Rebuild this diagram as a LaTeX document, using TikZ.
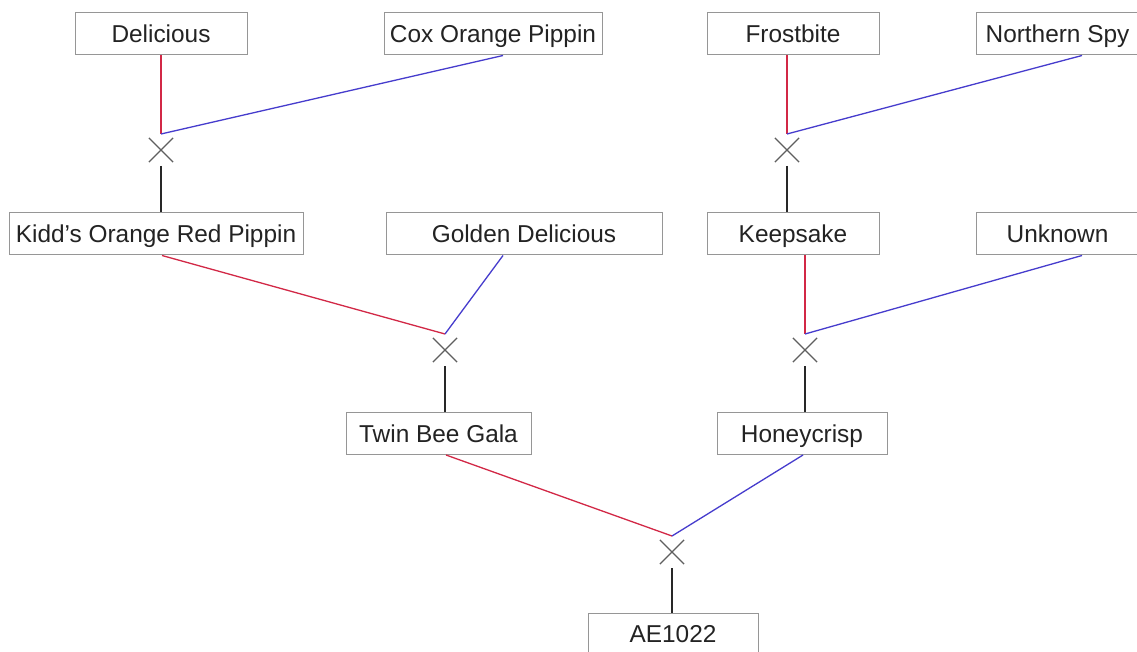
\documentclass[tikz,border=0pt]{standalone}
\usepackage{fontspec}
\setmainfont{Liberation Sans}
\usetikzlibrary{shapes.misc}
\definecolor{boxgray}{RGB}{150,150,150}
\definecolor{txt}{RGB}{35,35,35}
\definecolor{redline}{RGB}{210,40,70}
\definecolor{blueline}{RGB}{70,60,205}
\definecolor{crossgray}{RGB}{95,95,95}
\definecolor{childline}{RGB}{40,40,40}
\begin{document}
\begin{tikzpicture}[x=1pt,y=-1pt,
  cultivar/.style={draw=boxgray, line width=1pt, minimum height=42pt, inner sep=0pt,
    text=txt, font=\fontsize{24.4pt}{28pt}\selectfont, text height=17.5pt, text depth=0pt},
  crossmark/.style={cross out, draw=crossgray, line width=1.2pt, minimum size=23pt, inner sep=0pt},
  mother/.style={draw=redline, line width=1.3pt},
  father/.style={draw=blueline, line width=1.3pt},
  offspring/.style={draw=childline, line width=1.3pt}]
\useasboundingbox (0,0) rectangle (1137,652);
\fill[white] (0,0) rectangle (1137,652);
% row 1
\node[cultivar, minimum width=172pt] (del) at (161,34) {Delicious};
\node[cultivar, minimum width=218pt] (cox) at (493,34) {Cox Orange Pippin};
\node[cultivar, minimum width=172pt] (fro) at (793,34) {Frostbite};
\node[cultivar, minimum width=163pt] (nsp) at (1057.5,34) {Northern Spy};
% row 2
\node[cultivar, minimum width=294pt] (kid) at (156,234) {Kidd’s Orange Red Pippin};
\node[cultivar, minimum width=276pt] (gol) at (524,234) {Golden Delicious};
\node[cultivar, minimum width=172pt] (kee) at (793,234) {Keepsake};
\node[cultivar, minimum width=163pt] (unk) at (1057.5,234) {Unknown};
% row 3
\node[cultivar, minimum width=185pt] (twi) at (438.5,433.5) {Twin Bee Gala};
\node[cultivar, minimum width=170pt] (hon) at (802,433.5) {Honeycrisp};
% row 4
\node[cultivar, minimum width=170pt] (ae) at (673,634) {AE1022};
% crosses
\node[crossmark] (c1) at (161,150) {};
\node[crossmark] (c2) at (787,150) {};
\node[crossmark] (c3) at (445,350) {};
\node[crossmark] (c4) at (805,350) {};
\node[crossmark] (c5) at (672,552) {};
\foreach \i in {1,...,5} {
  \coordinate (a\i) at ([yshift=16pt]c\i.center);
  \coordinate (b\i) at ([yshift=-16pt]c\i.center);
}
% cross 1
\draw[mother] (del.south) -- (a1);
\draw[father] (a1) -- ([xshift=10pt]cox.south);
\draw[offspring] (b1) -- (kid.north -| b1);
% cross 2
\draw[mother] (fro.south -| a2) -- (a2);
\draw[father] (a2) -- ([xshift=24.5pt]nsp.south);
\draw[offspring] (b2) -- (kee.north -| b2);
% cross 3
\draw[mother] ([xshift=6pt]kid.south) -- (a3);
\draw[father] (a3) -- ([xshift=-21pt]gol.south);
\draw[offspring] (b3) -- (twi.north -| b3);
% cross 4
\draw[mother] (kee.south -| a4) -- (a4);
\draw[father] (a4) -- ([xshift=24.5pt]unk.south);
\draw[offspring] (b4) -- (hon.north -| b4);
% cross 5
\draw[mother] ([xshift=7.5pt]twi.south) -- (a5);
\draw[father] (a5) -- ([xshift=1pt]hon.south);
\draw[offspring] (b5) -- (ae.north -| b5);
\end{tikzpicture}
\end{document}
